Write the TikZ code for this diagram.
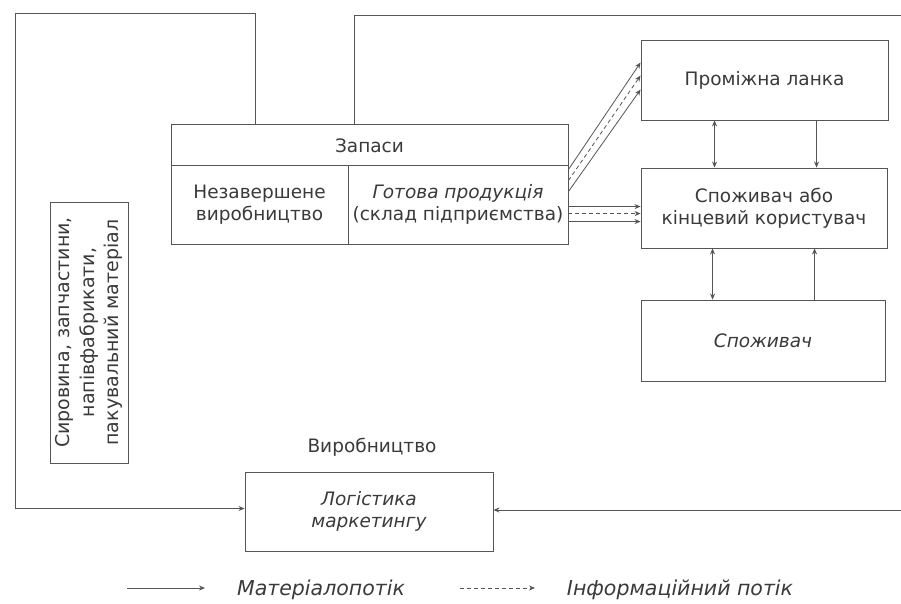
\documentclass[tikz,border=0pt]{standalone}
\usepackage{fontspec}
\setmainfont{DejaVu Sans}
\usetikzlibrary{arrows.meta}
\definecolor{ink}{HTML}{3A3A3A}
\definecolor{lin}{HTML}{555555}
\tikzset{
  box/.style={draw=lin, line width=0.9pt, rectangle, inner sep=2pt, align=center, text=ink, font=\fontsize{18.5}{22}\selectfont},
  txt/.style={text=ink, align=center, font=\fontsize{18.5}{22}\selectfont},
  tip/.tip={Stealth[length=6pt,width=5pt]},
  mflow/.style={draw=lin, line width=0.8pt, -tip},
  mflow2/.style={draw=lin, line width=0.8pt, tip-tip},
  iflow/.style={draw=lin, line width=0.8pt, dash pattern=on 4pt off 3pt, -tip},
  plainline/.style={draw=lin, line width=0.8pt}
}
\begin{document}
\begin{tikzpicture}[x=1pt,y=-1pt]
\useasboundingbox[fill=white] (0,0) rectangle (901,604);

% stocks block
\node[box, minimum width=397pt, minimum height=120pt] (zap) at (369.5,184) {};
\node[txt] (zaptitle) at (369.5,146) {Запаси};
\node[box, minimum width=177pt, minimum height=79pt] (wip) at (259.5,204.5) {Незавершене\\виробництво};
\node[box, minimum width=220pt, minimum height=79pt] (fin) at (458,204.5) {\textit{Готова продукція}\\(склад підприємства)};

% right column
\node[box, minimum width=247pt, minimum height=80pt] (mid) at (764.5,80) {Проміжна ланка};
\node[box, minimum width=246pt, minimum height=80pt] (cons) at (764,208) {Споживач або\\кінцевий користувач};
\node[box, minimum width=244pt, minimum height=81pt] (endc) at (763,340.5) {\textit{Споживач}};

% raw materials (vertical)
\node[box, rotate=90, minimum width=261pt, minimum height=78pt, font=\fontsize{19}{24.5}\selectfont] (raw) at (89,332.5) {Сировина, запчастини,\\напівфабрикати,\\пакувальний матеріал};

% production / logistics
\node[txt] (prod) at (372,447) {Виробництво};
\node[box, minimum width=248pt, minimum height=79pt] (log) at (369,511.5) {\textit{Логістика}\\\textit{маркетингу}};

% outer loops
\coordinate (re1) at (901,15);
\coordinate (re2) at (901,510);
\draw[mflow] ([xshift=85pt]zap.north west) |- (15,13) |- ([yshift=3pt]log.west);
\draw[plainline] ([xshift=184pt]zap.north west) |- (re1);
\draw[mflow] (re2) -- ([yshift=1.5pt]log.east);

% fin -> mid (diagonal)
\draw[mflow] ([yshift=-5pt]fin.north east) -- ([yshift=-23pt]mid.north west);
\draw[iflow] ([yshift=-16pt]fin.north east) -- ([yshift=-36pt]mid.north west);
\draw[mflow] ([yshift=-27pt]fin.north east) -- ([yshift=-50pt]mid.north west);

% fin -> cons (horizontal)
\draw[mflow] ([yshift=-42pt]fin.north east) -- ([yshift=-39pt]cons.north west);
\draw[iflow] ([yshift=-49pt]fin.north east) -- ([yshift=-46pt]cons.north west);
\draw[mflow] ([yshift=-57pt]fin.north east) -- ([yshift=-54pt]cons.north west);

% vertical links
\draw[mflow2] ([xshift=74pt]mid.south west) -- ([xshift=74pt]cons.north west);
\draw[mflow] ([xshift=176pt]mid.south west) -- ([xshift=176pt]cons.north west);
\draw[mflow2] ([xshift=72pt]cons.south west) -- ([xshift=72pt]endc.north west);
\draw[mflow] ([xshift=174pt]endc.north west) -- ([xshift=174pt]cons.south west);

% legend
\coordinate (la1) at (127,588);
\coordinate (la2) at (205,588);
\coordinate (lb1) at (460,588);
\coordinate (lb2) at (535,588);
\draw[mflow] (la1) -- (la2);
\draw[iflow] (lb1) -- (lb2);
\node[txt, font=\fontsize{20.5}{24}\selectfont\itshape] (lega) at (321,590) {Матеріалопотік};
\node[txt, font=\fontsize{20.5}{24}\selectfont\itshape] (legb) at (680,590) {Інформаційний потік};
\end{tikzpicture}
\end{document}
